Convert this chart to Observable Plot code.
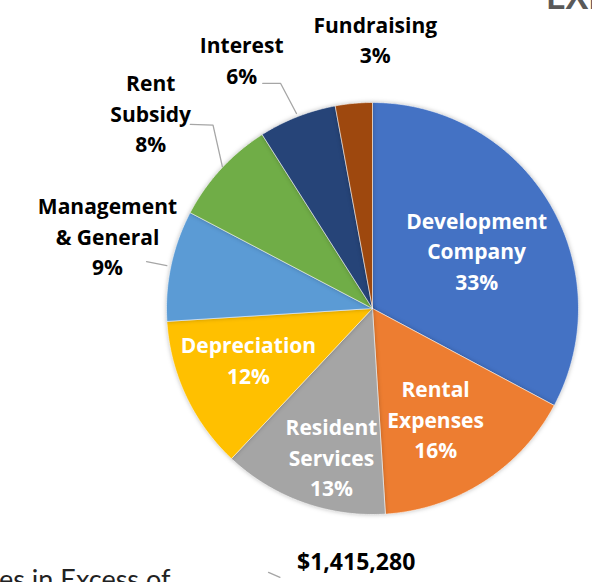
<!DOCTYPE html>
<html>
<head>
<meta charset="utf-8">
<script src="https://cdn.jsdelivr.net/npm/d3@7"></script>
<script src="https://cdn.jsdelivr.net/npm/@observablehq/plot@0.6"></script>
<style>
  html, body { margin: 0; padding: 0; background: #fff; overflow: hidden; width: 592px; height: 582px; }
  #wrap { position: relative; width: 592px; height: 582px; overflow: hidden; }
  #chart svg { display: block; }
  .frag { position: absolute; white-space: nowrap; font-family: Lato, "Open Sans", sans-serif; }
</style>
</head>
<body>
<div id="wrap">
  <div id="chart"></div>
  <div class="frag" style="left:546px; top:-25px; font-size:34px; font-weight:700; color:#595959;">EXPENSES</div>
  <div class="frag" style="left:-1px; top:562px; font-size:27px; color:#222;">es in Excess of</div>
  <div class="frag" style="left:297px; top:545px; font-size:23px; font-weight:700; color:#000; font-family:'Open Sans', sans-serif;">$1,415,280</div>
</div>
<script>
const categories = ["Development Company", "Rental Expenses", "Resident Services", "Depreciation",
  "Management & General", "Rent Subsidy", "Interest", "Fundraising"];
const values = [32.8, 16.2, 13.0, 12.0, 8.7, 8.3, 6.1, 2.9];
const labels = ["Development\nCompany\n33%", "Rental\nExpenses\n16%", "Resident\nServices\n13%",
  "Depreciation\n12%", "Management\n& General\n9%", "Rent\nSubsidy\n8%", "Interest\n6%", "Fundraising\n3%"];
const colors = ["#4472C4", "#ED7D31", "#A5A5A5", "#FFC000", "#5B9BD5", "#70AD47", "#264478", "#9E480E"];
const inside = [true, true, true, true, false, false, false, false];

// label placement: [radius (x pie radius), angle in degrees clockwise from 12 o'clock]
const labelPolar = [[0.575, 61.5], [0.624, 150.6], [0.755, 195.3], [0.655, 246.9],
  [1.332, 285], [1.431, 311.2], [1.357, 332.1], [1.30, 0.6]];
// leader lines, polar points
const leaders = [
  [[1.12, 281.7], [1.02, 281.8]],
  [[1.257, 315.3], [1.18, 319], [1.003, 313.4]],
  [[1.216, 334], [1.18, 337.8], [1.016, 338.7]]
];
const extraLeader = [[1.377, 201.5], [1.38, 199]];

const rad = d => d * Math.PI / 180;
const polar = ([r, a]) => ({x: r * Math.sin(rad(a)), y: r * Math.cos(rad(a))});

const arcs = d3.pie().sort(null).value(d => d)(values);
const slices = arcs.map((a, i) => {
  const pts = [{x: 0, y: 0}];
  const n = Math.max(2, Math.ceil((a.endAngle - a.startAngle) / rad(0.5)));
  for (let k = 0; k <= n; k++) {
    const t = a.startAngle + (a.endAngle - a.startAngle) * k / n;
    pts.push({x: Math.sin(t), y: Math.cos(t)});
  }
  pts.push({x: 0, y: 0});
  return pts;
});

const labelData = labels.map((t, i) => ({text: t, inside: inside[i], ...polar(labelPolar[i])}));
const leaderData = [...leaders, extraLeader].flatMap((pts, i) => pts.map(p => ({id: i, ...polar(p)})));

const font = "'Open Sans', Lato, sans-serif";

const plot = Plot.plot({
  width: 592,
  height: 582,
  marginLeft: 166,
  marginRight: 14,
  marginTop: 102,
  marginBottom: 68,
  x: {domain: [-1, 1], axis: null},
  y: {domain: [-1, 1], axis: null},
  style: {background: "transparent", overflow: "visible"},
  marks: [
    ...slices.map((s, i) => Plot.line(s, {x: "x", y: "y", fill: colors[i], stroke: "#ffffff", strokeWidth: 0.7, strokeOpacity: 0.8, strokeLinejoin: "round", curve: "linear"})),
    Plot.line(leaderData, {x: "x", y: "y", z: "id", stroke: "#a6a6a6", strokeWidth: 1.3}),
    Plot.text(labelData.filter(d => d.inside), {x: "x", y: "y", dy: -2.5, text: "text", fill: "#ffffff", fontSize: 21, fontWeight: 700, fontFamily: font, lineHeight: 1.45}),
    Plot.text(labelData.filter(d => !d.inside), {x: "x", y: "y", dy: -2.5, text: "text", fill: "#000000", fontSize: 21, fontWeight: 700, fontFamily: font, lineHeight: 1.45})
  ]
});
document.getElementById("chart").appendChild(plot);
// soft shadow around the pie slices
plot.querySelectorAll('g[aria-label="line"]').forEach((g, i) => {
  if (i < slices.length) g.style.filter = "drop-shadow(0px 0px 2px rgba(0,0,0,0.25))";
});
</script>
</body>
</html>
